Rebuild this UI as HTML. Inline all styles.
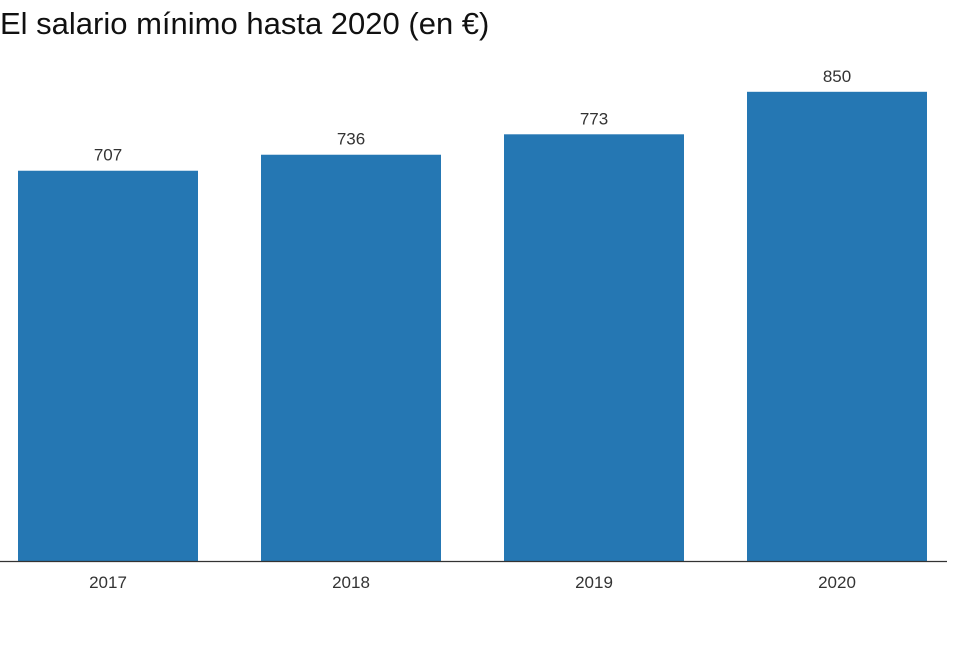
<!DOCTYPE html>
<html><head><meta charset="utf-8"><style>
body{margin:0;background:#fff;width:980px;height:648px;overflow:hidden;font-family:"Liberation Sans",sans-serif}
</style></head><body>
<svg width="980" height="648">
<text x="0" y="34" font-size="31" fill="#111">El salario mínimo hasta 2020 (en €)</text>
<g id="bars"></g>
<line x1="0" x2="947" y1="561.5" y2="561.5" stroke="#333" stroke-width="1.2"/>
</svg>
<script>
const categories=["2017","2018","2019","2020"];
const values=[707,736,773,850];
const labels=["707","736","773","850"];
const base=561, k=0.552, x0=18, step=243, bw=180;
const xs=i=>x0+i*step, ys=v=>base-v*k;
const g=document.getElementById('bars'), ns='http://www.w3.org/2000/svg';
categories.forEach((c,i)=>{
  const r=document.createElementNS(ns,'rect');
  r.setAttribute('x',xs(i));r.setAttribute('y',ys(values[i]));
  r.setAttribute('width',bw);r.setAttribute('height',base-ys(values[i]));
  r.setAttribute('fill','#2577b3');
  
  
  g.appendChild(r);
  const t=document.createElementNS(ns,'text');
  t.setAttribute('x',xs(i)+bw/2);t.setAttribute('y',ys(values[i])-10);
  t.setAttribute('text-anchor','middle');t.setAttribute('font-size','17');t.setAttribute('fill','#333');
  t.textContent=labels[i];
  
  
  g.appendChild(t);
  const a=document.createElementNS(ns,'text');
  a.setAttribute('x',xs(i)+bw/2);a.setAttribute('y',588);
  a.setAttribute('text-anchor','middle');a.setAttribute('font-size','17');a.setAttribute('fill','#333');
  a.textContent=c;
  
  
  g.appendChild(a);
});
</script>
</body></html>
